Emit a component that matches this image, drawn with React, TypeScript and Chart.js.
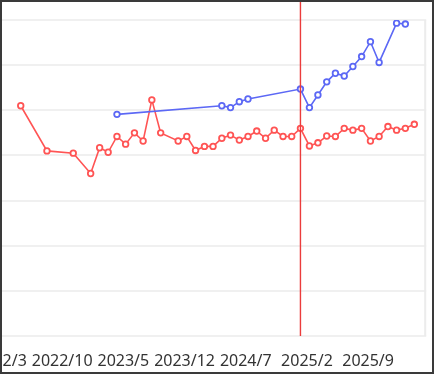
import React, { useEffect, useRef } from "react";
import { Chart, registerables } from "chart.js";

Chart.register(...registerables);

// ---- data ----
const xTickLabels = ["2022/3", "2022/10", "2023/5", "2023/12", "2024/7", "2025/2", "2025/9"];
const X_START = "2022-03-01";
const X_END = "2026-03-21";
const REPORT_DAY = 9; // monthly figures are reported on this day of the month

const redMonths = [
  "2022-05", "2022-08", "2022-11", "2023-01", "2023-02", "2023-03", "2023-04", "2023-05",
  "2023-06", "2023-07", "2023-08", "2023-09", "2023-11", "2023-12", "2024-01", "2024-02",
  "2024-03", "2024-04", "2024-05", "2024-06", "2024-07", "2024-08", "2024-09", "2024-10",
  "2024-11", "2024-12", "2025-01", "2025-02", "2025-03", "2025-04", "2025-05", "2025-06",
  "2025-07", "2025-08", "2025-09", "2025-10", "2025-11", "2025-12", "2026-01", "2026-02",
];
const redValues = [
  51.0, 41.0, 40.5, 36.0, 41.7, 40.7, 44.2, 42.5,
  45.0, 43.2, 52.3, 45.0, 43.2, 44.2, 41.1, 42.0,
  42.0, 43.8, 44.5, 43.4, 44.2, 45.4, 43.8, 45.6,
  44.2, 44.2, 46.0, 42.1, 42.8, 44.3, 44.2, 46.0,
  45.6, 46.0, 43.2, 44.2, 46.4, 45.6, 46.0, 46.9,
];

const blueMonths = [
  "2023-04", "2024-04", "2024-05", "2024-06", "2024-07", "2025-01", "2025-02", "2025-03",
  "2025-04", "2025-05", "2025-06", "2025-07", "2025-08", "2025-09", "2025-10", "2025-12", "2026-01",
];
const blueValues = [
  49.1, 51.0, 50.6, 51.9, 52.5, 54.7, 50.6, 53.4,
  56.3, 58.2, 57.6, 59.7, 61.9, 65.2, 60.6, 69.3, 69.1,
];

const markerMonth = "2025-01";

const Y_MIN = 0;
const Y_MAX = 70;
const Y_STEP = 10;

// ---- helpers ----
const baseYear = 2022;
const baseMonth = 3;
function monthValue(year: number, month: number, day: number): number {
  const dim = new Date(year, month, 0).getDate();
  return (year - baseYear) * 12 + (month - baseMonth) + (day - 1) / dim;
}
function parseDate(s: string, defaultDay = 1): number {
  const parts = s.replace("/", "-").split("-").map(Number);
  const day = parts.length > 2 ? parts[2] : defaultDay;
  return monthValue(parts[0], parts[1], day);
}

const RED = "rgb(255, 84, 84)";
const BLUE = "rgb(92, 104, 245)";

export default function App() {
  const ref = useRef<HTMLCanvasElement | null>(null);

  useEffect(() => {
    if (!ref.current) return;
    const tickValues = xTickLabels.map((l) => parseDate(l, 1));
    const markerValue = parseDate(markerMonth, REPORT_DAY);

    const markerPlugin = {
      id: "markerLine",
      beforeDatasetsDraw(chart: any) {
        const { ctx, chartArea } = chart;
        // right edge of plot area
        ctx.save();
        ctx.strokeStyle = "#ececec";
        ctx.lineWidth = 2;
        ctx.beginPath();
        ctx.moveTo(chartArea.right - 1, chartArea.top);
        ctx.lineTo(chartArea.right - 1, chartArea.bottom);
        ctx.stroke();
        ctx.restore();
      },
      afterDatasetsDraw(chart: any) {
        const { ctx, chartArea, scales } = chart;
        const x = scales.x.getPixelForValue(markerValue);
        ctx.save();
        ctx.strokeStyle = "rgb(235, 60, 60)";
        ctx.lineWidth = 1.4;
        ctx.beginPath();
        ctx.moveTo(x, 0);
        ctx.lineTo(x, chartArea.bottom);
        ctx.stroke();
        ctx.restore();
      },
    };

    const chart = new Chart(ref.current, {
      type: "line",
      data: {
        datasets: [
          {
            label: "A",
            data: blueMonths.map((m, i) => ({ x: parseDate(m, REPORT_DAY), y: blueValues[i] })),
            borderColor: BLUE,
            backgroundColor: "#ffffff",
            borderWidth: 1.6,
            pointRadius: 2.8,
            pointBorderWidth: 1.8,
            pointBackgroundColor: "#ffffff",
            pointBorderColor: BLUE,
            tension: 0,
          },
          {
            label: "B",
            data: redMonths.map((m, i) => ({ x: parseDate(m, REPORT_DAY), y: redValues[i] })),
            borderColor: RED,
            backgroundColor: "#ffffff",
            borderWidth: 1.6,
            pointRadius: 2.8,
            pointBorderWidth: 1.8,
            pointBackgroundColor: "#ffffff",
            pointBorderColor: RED,
            tension: 0,
          },
        ],
      },
      options: {
        responsive: false,
        animation: false,
        devicePixelRatio: 1,
        layout: { padding: { top: 20, right: 0, left: 0, bottom: 0 } },
        plugins: { legend: { display: false }, tooltip: { enabled: false } },
        scales: {
          x: {
            type: "linear",
            min: parseDate(X_START),
            max: parseDate(X_END),
            grid: { display: false, drawTicks: false },
            border: { display: false },
            afterBuildTicks: (scale: any) => {
              scale.ticks = tickValues.map((v) => ({ value: v }));
            },
            afterFit: (scale: any) => {
              scale.height = 36;
            },
            ticks: {
              autoSkip: false,
              maxRotation: 0,
              padding: 16,
              color: "#333333",
              font: { family: "'Noto Sans'", size: 16 },
              callback: (_v: any, i: number) => xTickLabels[i],
            },
          },
          y: {
            min: Y_MIN,
            max: Y_MAX,
            afterFit: (scale: any) => {
              scale.width = 50;
            },
            grid: { color: "#f0f0f0", lineWidth: 2, drawTicks: false },
            border: { display: false },
            ticks: {
              stepSize: Y_STEP,
              color: "#333333",
              font: { family: "'Noto Sans'", size: 14 },
            },
          },
        },
      },
      plugins: [markerPlugin],
    } as any);
    return () => chart.destroy();
  }, []);

  return (
    <div
      style={{
        position: "absolute",
        left: 0,
        top: 0,
        width: 437,
        height: 389,
        overflow: "hidden",
        background: "#ffffff",
      }}
    >
      <canvas
        ref={ref}
        width={481}
        height={372}
        style={{ position: "absolute", left: -48.8, top: 0, width: 481, height: 372 }}
      />
      <div
        style={{
          position: "absolute",
          left: 0,
          top: 0,
          width: 434,
          height: 374,
          boxSizing: "border-box",
          border: "2px solid #3a3a3a",
          pointerEvents: "none",
        }}
      />
    </div>
  );
}
